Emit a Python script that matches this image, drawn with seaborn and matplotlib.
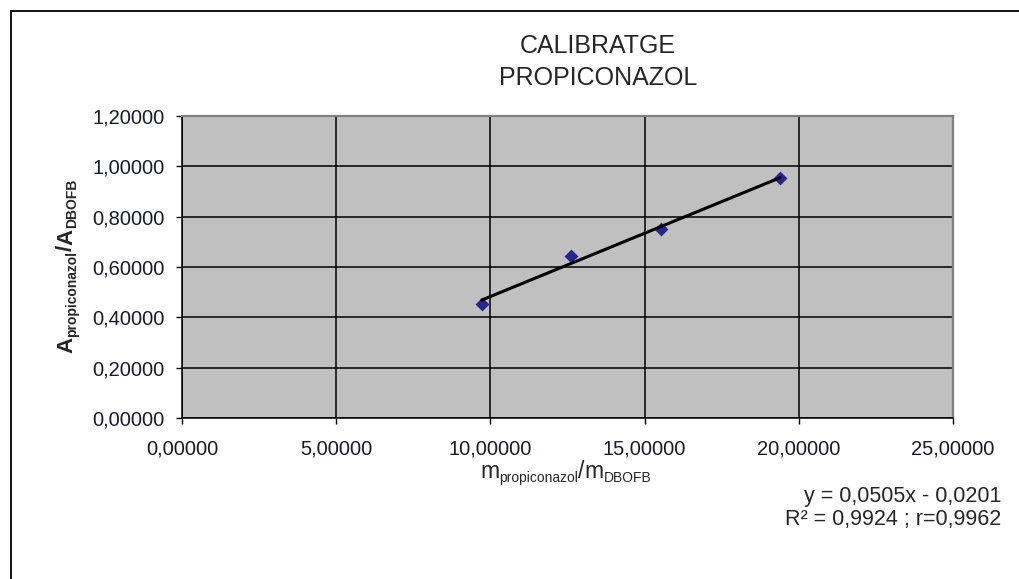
import numpy as np
import matplotlib
matplotlib.use("Agg")
import matplotlib.pyplot as plt
import matplotlib.ticker as mticker
from matplotlib.patches import Rectangle
from matplotlib.transforms import IdentityTransform
import seaborn as sns

# calibration points (mass ratio vs area ratio)
mass_ratio = [9.72, 12.60, 15.52, 19.39]
area_ratio = [0.452, 0.643, 0.750, 0.952]

title_lines = ["CALIBRATGE", "PROPICONAZOL"]
equation_lines = ["y = 0,0505x - 0,0201", "R² = 0,9924 ; r=0,9962"]
x_ticks = [0, 5, 10, 15, 20, 25]
y_ticks = [0.0, 0.2, 0.4, 0.6, 0.8, 1.0, 1.2]

W, H = 1019, 579

sns.set_theme(style="white")
plt.rcParams['font.family'] = ['Liberation Sans', 'DejaVu Sans']

fig = plt.figure(figsize=(W / 100, H / 100), dpi=100)
ax = fig.add_axes([182 / W, 1 - 418 / H, (953 - 182) / W, (418 - 116) / H])
ax.set_facecolor('#c0c0c0')

sns.regplot(x=mass_ratio, y=area_ratio, ax=ax, ci=None, marker='D',
            scatter_kws=dict(color='#000080', s=50, linewidths=0),
            line_kws=dict(color='black', lw=2.2))

ax.set_xlim(0, 25)
ax.set_ylim(0, 1.2)
ax.set_xticks(x_ticks)
ax.set_yticks(y_ticks)
comma = mticker.FuncFormatter(lambda v, p: f"{v:.5f}".replace('.', ','))
ax.xaxis.set_major_formatter(comma)
ax.yaxis.set_major_formatter(comma)
ax.tick_params(axis='both', which='major', direction='out', length=4.5, width=1,
               color='black', labelsize=14.5, labelcolor='#1a1a2e',
               bottom=True, left=True)
ax.tick_params(axis='x', pad=11)
ax.tick_params(axis='y', pad=8)

ax.grid(True, color='black', linewidth=1.1)
ax.set_axisbelow(True)
for side in ['left', 'bottom']:
    ax.spines[side].set_color('black')
    ax.spines[side].set_linewidth(1.1)
for side in ['top', 'right']:
    ax.spines[side].set_color('#808080')
    ax.spines[side].set_linewidth(1.6)

ax.set_xlabel('')
ax.set_ylabel('')


def rich_label(pieces, cx, cy, rotation=0):
    """Place text pieces (text, size, weight, baseline shift px) centred at cx, cy (pixels from top-left)."""
    renderer = fig.canvas.get_renderer()
    items = []
    total = 0
    for s, size, weight, shift in pieces:
        t = fig.text(0, 0, s, fontsize=size, weight=weight, transform=IdentityTransform(),
                     ha='left', va='baseline', rotation_mode='anchor')
        w = t.get_window_extent(renderer).width
        items.append((t, w, shift))
        total += w
    pos = -total / 2
    for t, w, shift in items:
        if rotation == 90:
            t.set_rotation(90)
            t.set_position((cx + shift, (H - cy) + pos))
        else:
            t.set_position((cx + pos, (H - cy) - shift))
        pos += w


# title
fig.text(598 / W, 1 - 53 / H, title_lines[0], ha='center', va='baseline', fontsize=18)
fig.text(598 / W, 1 - 85 / H, title_lines[1], ha='center', va='baseline', fontsize=18)

# axis labels with small subscripts
rich_label([("m", 16.5, 'normal', 0), ("propiconazol", 10, 'normal', 4),
            ("/", 16.5, 'normal', 0), ("m", 16.5, 'normal', 0), ("DBOFB", 10, 'normal', 4)],
           566, 478)
rich_label([("A", 16, 'bold', 0), ("propiconazol", 10, 'bold', 4),
            ("/", 16, 'bold', 0), ("A", 16, 'bold', 0), ("DBOFB", 10, 'bold', 4)],
           72, 266, rotation=90)

# trendline equation
fig.text(1001 / W, 1 - 502 / H, equation_lines[0], ha='right', va='baseline', fontsize=15.5)
fig.text(1001 / W, 1 - 525 / H, equation_lines[1], ha='right', va='baseline', fontsize=15.5)

# chart border
fig.add_artist(Rectangle((11 / W, -0.1), 1.0, 1 - 11 / H + 0.1,
                         transform=fig.transFigure, fill=False,
                         edgecolor='black', linewidth=1.3, clip_on=False))

fig.savefig('out.png', dpi=100)
